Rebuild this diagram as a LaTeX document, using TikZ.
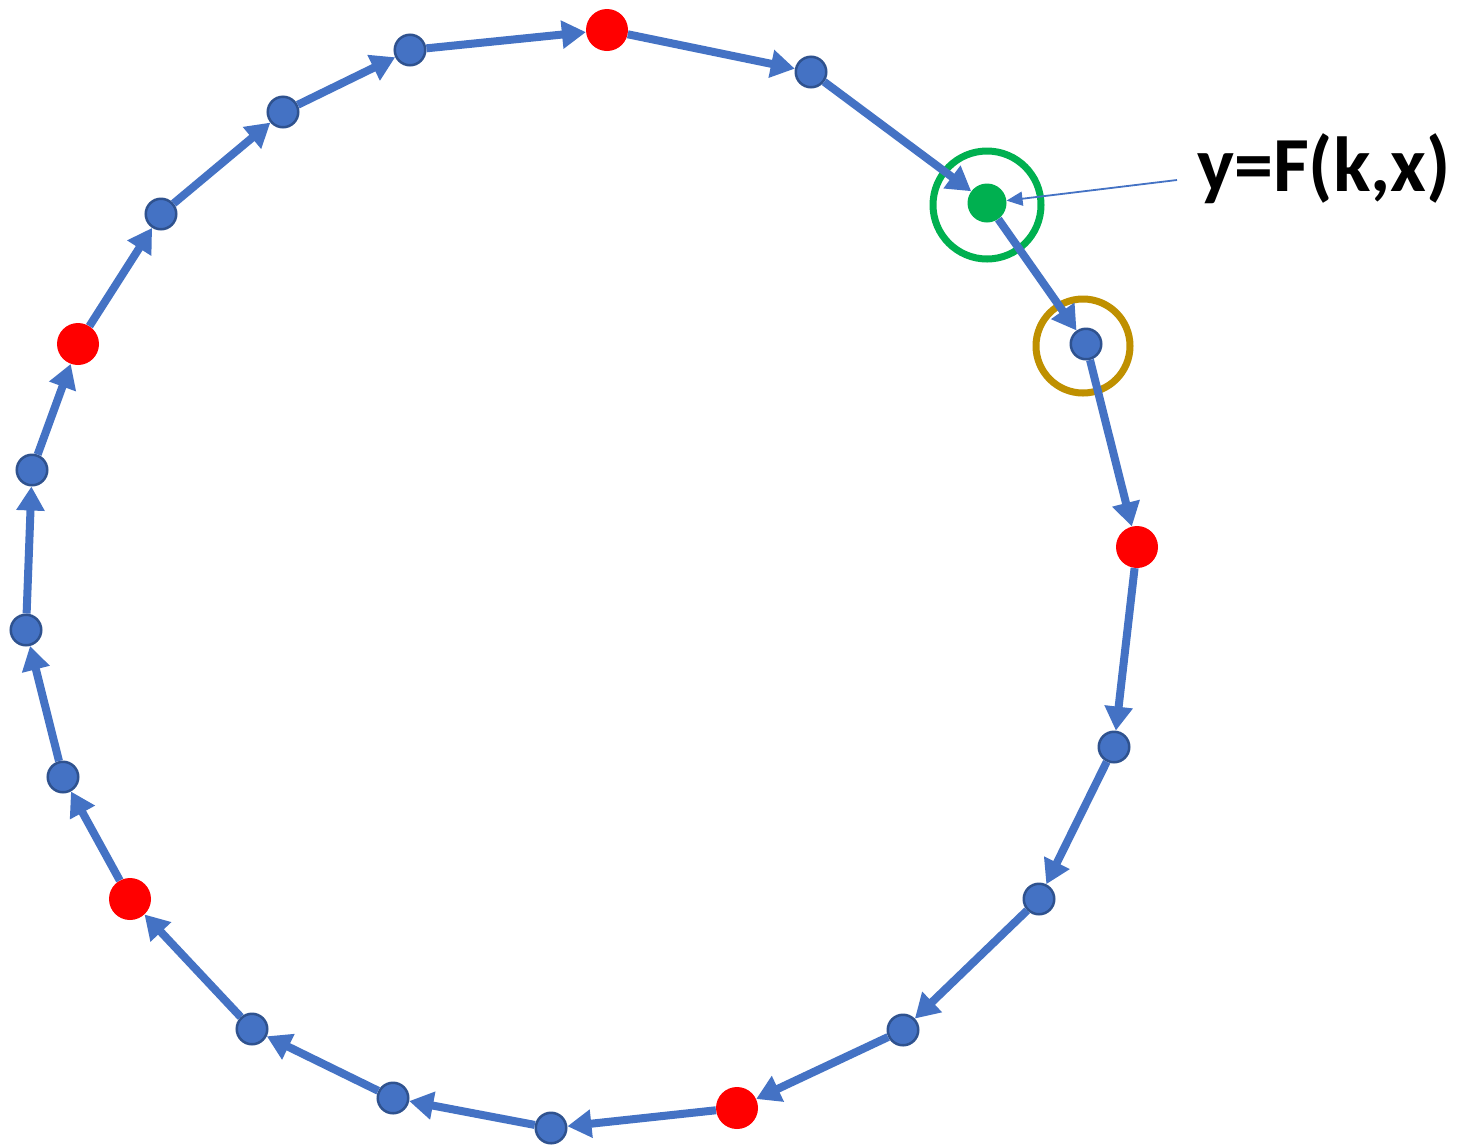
\documentclass[tikz,border=0pt]{standalone}
\usepackage{fontspec}
\newfontfamily\labelfont{Carlito}
\usetikzlibrary{arrows.meta}
\definecolor{nodeblue}{HTML}{4472C4}
\definecolor{edgeblue}{HTML}{2F528F}
\definecolor{ptred}{HTML}{FF0000}
\definecolor{ptgreen}{HTML}{00B050}
\definecolor{ringgold}{HTML}{BF9000}
\begin{document}
\begin{tikzpicture}[x=1pt,y=-1pt,
  bluept/.style={circle,fill=nodeblue,draw=edgeblue,line width=2.5pt,minimum size=30.5pt,inner sep=0pt},
  redpt/.style={circle,fill=ptred,minimum size=42pt,inner sep=0pt},
  greenpt/.style={circle,fill=ptgreen,minimum size=39pt,inner sep=0pt},
  ring/.style={circle,line width=7pt,inner sep=0pt,fill=none},
  link/.style={draw=nodeblue,line width=8pt,-{Triangle[width=27pt,length=24pt]}},
  pointer/.style={draw=nodeblue,line width=1.8pt,-{Triangle[width=14pt,length=16pt]}}
]
\useasboundingbox (0,0) rectangle (1472,1144);
\fill[white] (0,0) rectangle (1472,1144);
% rings
\node[ring,draw=ptgreen,minimum size=108pt] (gring) at (987,205) {};
\node[ring,draw=ringgold,minimum size=94pt] (yring) at (1083,346) {};
% points
\node[redpt]   (p1)  at (607,30) {};
\node[bluept]  (p2)  at (811,72) {};
\node[greenpt] (p3)  at (987,203) {};
\node[bluept]  (p4)  at (1086,344) {};
\node[redpt]   (p5)  at (1137,547) {};
\node[bluept]  (p6)  at (1114,747) {};
\node[bluept]  (p7)  at (1039,899) {};
\node[bluept]  (p8)  at (903,1030) {};
\node[redpt]   (p9)  at (737,1108) {};
\node[bluept]  (p10) at (551,1128) {};
\node[bluept]  (p11) at (393,1098) {};
\node[bluept]  (p12) at (252,1029) {};
\node[redpt]   (p13) at (130,899) {};
\node[bluept]  (p14) at (63,777) {};
\node[bluept]  (p15) at (26,630) {};
\node[bluept]  (p16) at (32,470) {};
\node[redpt]   (p17) at (78,344) {};
\node[bluept]  (p18) at (161,214) {};
\node[bluept]  (p19) at (283,112) {};
\node[bluept]  (p20) at (410,50) {};
% cycle
\foreach \a/\b in {p1/p2,p2/p3,p3/p4,p4/p5,p5/p6,p6/p7,p7/p8,p8/p9,p9/p10,p10/p11,p11/p12,p12/p13,p13/p14,p14/p15,p15/p16,p16/p17,p17/p18,p18/p19,p19/p20,p20/p1}
  \draw[link] (\a) -- (\b);
% label
\node[anchor=base west,inner sep=0pt,font=\labelfont\bfseries\fontsize{78}{90}\selectfont] (lbl) at (1197,191) {y=F(k,x)};
\coordinate (ptr) at (1177,180);
\draw[pointer] (ptr) -- (p3);
\end{tikzpicture}
\end{document}
